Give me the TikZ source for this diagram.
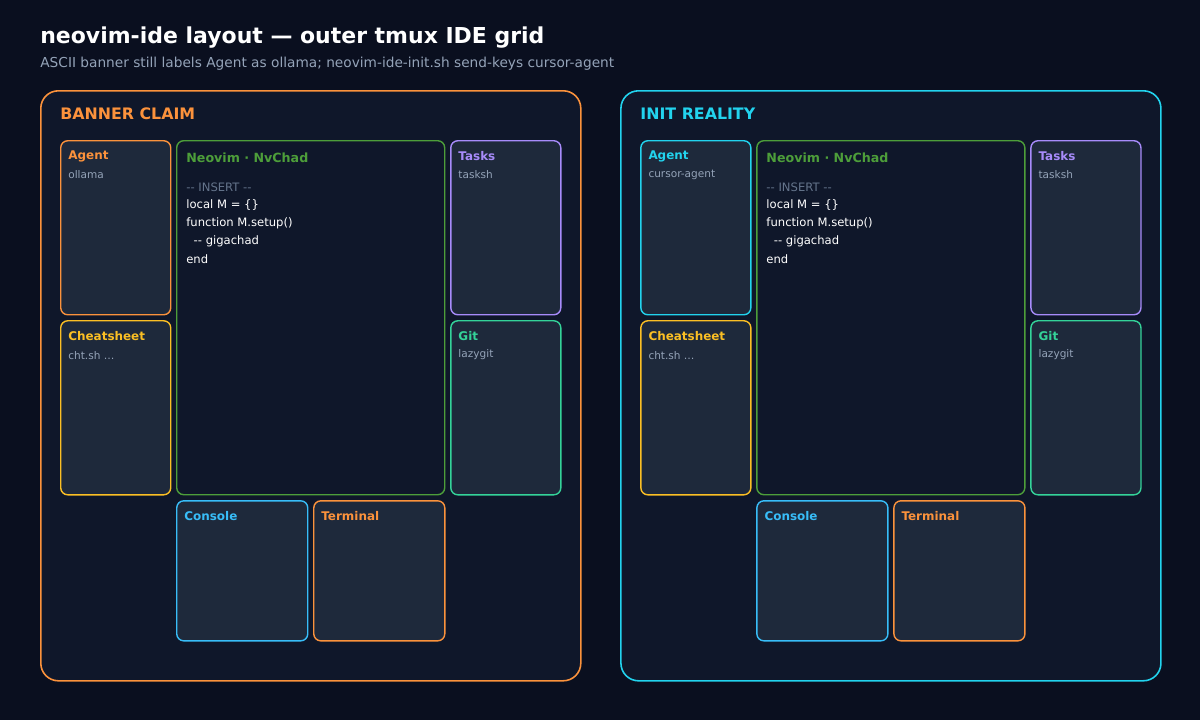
\documentclass[tikz,border=0pt]{standalone}
\usepackage{fontspec}
\setmainfont{DejaVu Sans}
\usetikzlibrary{positioning}
\definecolor{bgc}{HTML}{0A0F1F}
\definecolor{panelc}{HTML}{0F172A}
\definecolor{panec}{HTML}{1E293B}
\definecolor{orangec}{HTML}{FB923C}
\definecolor{cyanc}{HTML}{22D3EE}
\definecolor{greenc}{HTML}{4D9E3A}
\definecolor{purplec}{HTML}{A78BFA}
\definecolor{gitc}{HTML}{34D399}
\definecolor{yellowc}{HTML}{FBBF24}
\definecolor{bluec}{HTML}{38BDF8}
\definecolor{grayc}{HTML}{94A3B8}
\definecolor{dimc}{HTML}{64748B}
\tikzset{
  panel/.style={draw, fill=panelc, line width=0.9pt, rounded corners=10pt, anchor=north west, inner sep=0pt},
  pane/.style={draw, fill=panec, line width=0.8pt, rounded corners=4pt, anchor=north west, inner sep=0pt},
  ptitle/.style={anchor=west, font=\fontsize{6.8}{8}\selectfont\bfseries, inner sep=0pt},
  psub/.style={anchor=west, font=\fontsize{6}{7}\selectfont, text=grayc, inner sep=0pt},
  code/.style={anchor=west, font=\fontsize{6.6}{8}\selectfont, text=white, inner sep=0pt}
}
% box in px: name, x, y, w, h, colour, title, subtitle
\newcommand{\paneat}[8]{%
  \node[pane, draw=#6, minimum width=#4*0.02cm, minimum height=#5*0.02cm] (#1) at ({(#2)*0.02}, {-(#3)*0.02}) {};
  \node[ptitle, text=#6] (#1-t) at ({(#2)*0.02+0.16}, {-(#3)*0.02-0.32}) {#7};
  \node[psub] (#1-s) at ({(#2)*0.02+0.16}, {-(#3)*0.02-0.70}) {#8};
}
\begin{document}
\begin{tikzpicture}
\fill[bgc] (0,0) rectangle (24,-14.4);
\useasboundingbox (0,0) rectangle (24,-14.4);

% title
\node[anchor=west, inner sep=0pt, text=white, font=\fontsize{12.5}{14}\selectfont\bfseries] (title) at (0.8,-0.76) {neovim-ide layout — outer tmux IDE grid};
\node[anchor=west, inner sep=0pt, text=grayc, font=\fontsize{7.8}{9}\selectfont] (subtitle) at (0.8,-1.28) {ASCII banner still labels Agent as ollama; neovim-ide-init.sh send-keys cursor-agent};

\foreach \ox/\pc/\head/\agent/\id in {0/orangec/BANNER CLAIM/ollama/L, 580/cyanc/INIT REALITY/cursor-agent/R}{
  \node[panel, draw=\pc, minimum width=10.8cm, minimum height=11.8cm] (panel\id) at (0.8+\ox*0.02, -1.8) {};
  \node[anchor=west, text=\pc, font=\fontsize{9}{11}\selectfont\bfseries, inner sep=0pt] (head\id) at (1.2+\ox*0.02, -2.28) {\head};
  % side panes
  \paneat{agent\id}{60+\ox}{140}{110}{174}{\pc}{Agent}{\agent}
  \paneat{cheat\id}{60+\ox}{320}{110}{174}{yellowc}{Cheatsheet}{cht.sh …}
  \paneat{tasks\id}{450+\ox}{140}{110}{174}{purplec}{Tasks}{tasksh}
  \paneat{git\id}{450+\ox}{320}{110}{174}{gitc}{Git}{lazygit}
  \paneat{console\id}{176+\ox}{500}{131}{140}{bluec}{Console}{}
  \paneat{term\id}{313+\ox}{500}{131}{140}{orangec}{Terminal}{}
  % editor
  \node[pane, draw=greenc, fill=panelc, minimum width=5.36cm, minimum height=7.08cm] (nvim\id) at (3.52+\ox*0.02, -2.8) {};
  \node[ptitle, text=greenc, font=\fontsize{7.2}{8}\selectfont\bfseries] (nvim\id-t) at (3.72+\ox*0.02, -3.16) {Neovim · NvChad};
  \node[code, text=dimc] (c1\id) at (3.72+\ox*0.02, -3.74) {-{}- INSERT -{}-};
  \node[code, below=0.36cm of c1\id.west, anchor=west] (c2\id) {local M = \{\}};
  \node[code, below=0.36cm of c2\id.west, anchor=west] (c3\id) {function M.setup()};
  \node[code, below=0.36cm of c3\id.west, anchor=west] (c4\id) {\ \ -{}- gigachad};
  \node[code, below=0.36cm of c4\id.west, anchor=west] (c5\id) {end};
}
\end{tikzpicture}
\end{document}
